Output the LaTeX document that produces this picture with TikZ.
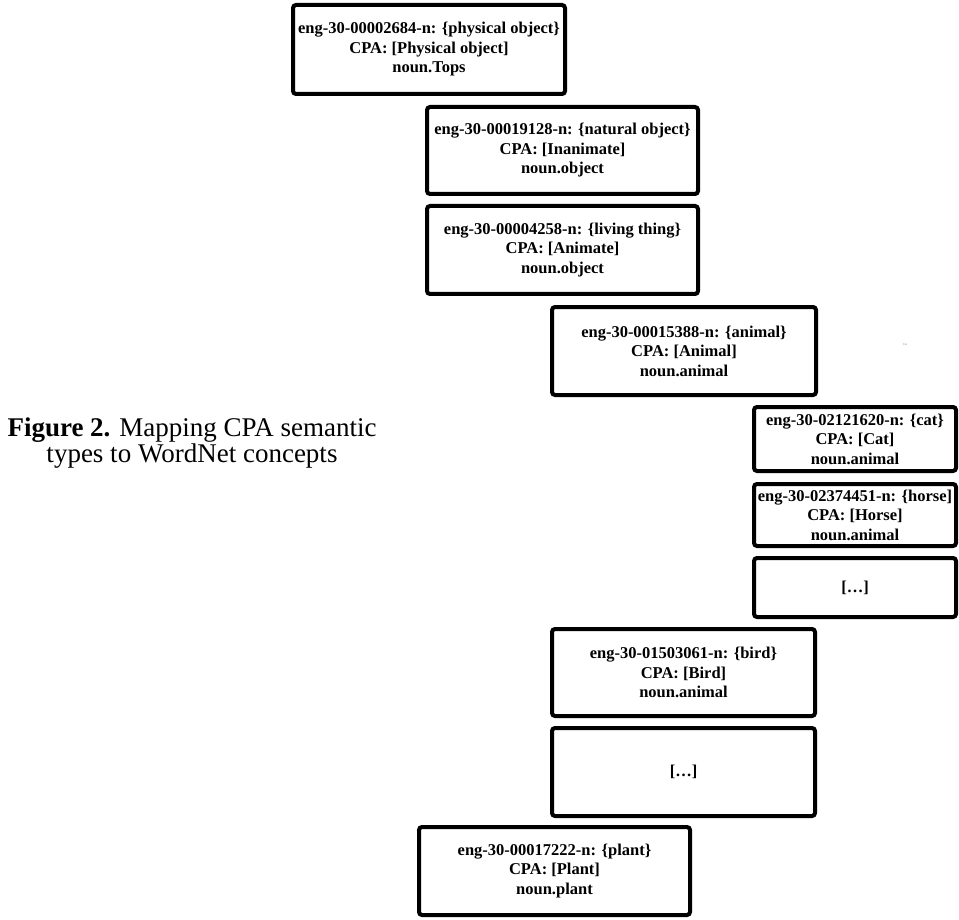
\documentclass[tikz,border=0pt]{standalone}
\usepackage{fontspec}
\setmainfont{Liberation Serif}
\usetikzlibrary{positioning}
\tikzstyle{concept} = [
        rectangle, draw, line width=4pt,
        rounded corners=3pt, inner sep=0pt,
        align=center,
        font=\fontsize{16.5}{19.5}\selectfont\bfseries
    ]
\tikzstyle{wide} = [concept, minimum width=271pt, minimum height=88pt]
\tikzstyle{mid} = [concept, minimum width=263pt, minimum height=88pt]
\tikzstyle{narrow} = [concept, minimum width=202pt]
\tikzstyle{caption} = [align=center, inner sep=0pt, font=\fontsize{27}{23.5}\selectfont]

\begin{document}
\begin{tikzpicture}[x=1pt, y=-1pt, node distance=9pt]
    \useasboundingbox (0,0) rectangle (959,920);

    \node [wide, minimum width=272pt, minimum height=89pt] (physobj) at (429,49.5)
        {eng-30-00002684-n: \{physical object\}\\CPA: [Physical object]\\noun.Tops};
    \node [wide, minimum height=87pt] (natobj) at (562.5,150.5)
        {eng-30-00019128-n: \{natural object\}\\CPA: [Inanimate]\\noun.object};
    \node [wide, below=8pt of natobj] (living)
        {eng-30-00004258-n: \{living thing\}\\CPA: [Animate]\\noun.object};
    \node [mid, minimum width=264pt] (animal) at (684,351)
        {eng-30-00015388-n: \{animal\}\\CPA: [Animal]\\noun.animal};
    \node [narrow, minimum height=64pt] (cat) at (855,439)
        {eng-30-02121620-n: \{cat\}\\CPA: [Cat]\\noun.animal};
    \node [narrow, minimum height=62pt, below=of cat] (horse)
        {eng-30-02374451-n: \{horse]\\CPA: [Horse]\\noun.animal};
    \node [narrow, minimum height=59pt, below=8pt of horse] (more1) {[\ldots]};
    \node [mid, minimum height=87pt] (bird) at (683.5,672.5)
        {eng-30-01503061-n: \{bird\}\\CPA: [Bird]\\noun.animal};
    \node [mid, below=8pt of bird] (more2) {[\ldots]};
    \node [wide] (plant) at (554.5,871)
        {eng-30-00017222-n: \{plant\}\\CPA: [Plant]\\noun.plant};

    \node [font=\fontsize{3}{3}\selectfont, text=gray] (car) at (905,345) {Car};

    \node [caption] (fig) at (192,443)
        {\textbf{Figure 2.} Mapping CPA semantic\\types to WordNet concepts};
\end{tikzpicture}
\end{document}
